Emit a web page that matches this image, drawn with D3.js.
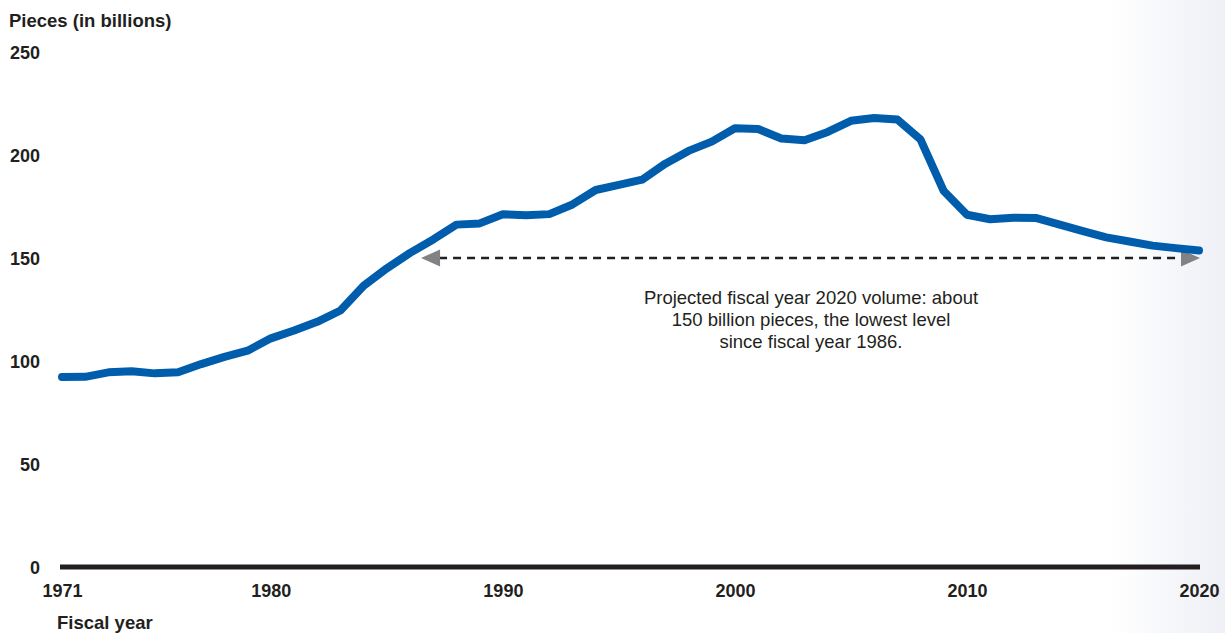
<!DOCTYPE html>
<html>
<head>
<meta charset="utf-8">
<script src="https://cdn.jsdelivr.net/npm/d3@7"></script>
<style>
  html, body { margin: 0; padding: 0; background: #fff; }
  svg { display: block; font-family: "Liberation Sans", Arial, Helvetica, sans-serif; }
</style>
</head>
<body>
<svg id="chart" width="1225" height="633"></svg>
<script>
const years = d3.range(1971, 2021);
const volume = [
  92.2, 92.3, 94.5, 95.0, 94.0, 94.5, 98.5, 102.0, 105.0, 111.0,
  114.8, 119.0, 124.5, 136.5, 145.0, 152.5, 159.0, 166.2, 166.8, 171.2,
  170.8, 171.3, 176.0, 183.0, 185.5, 188.0, 195.8, 202.0, 206.5, 213.0,
  212.6, 208.0, 207.2, 211.2, 216.6, 218.0, 217.2, 207.5, 182.5, 171.0,
  168.8, 169.5, 169.4, 166.2, 163.0, 160.0, 158.0, 156.0, 154.8, 153.6
];
const yTicks = [0, 50, 100, 150, 200, 250];
const xTicks = [1971, 1980, 1990, 2000, 2010, 2020];
const projectedLevel = 150;
const arrowFrom = 1986, arrowTo = 2020;
const yTitle = "Pieces (in billions)";
const xTitle = "Fiscal year";
const noteLines = [
  "Projected fiscal year 2020 volume: about",
  "150 billion pieces, the lowest level",
  "since fiscal year 1986."
];

const svg = d3.select("#chart");
const W = 1225, H = 633;

// right-edge soft gradient
const defs = svg.append("defs");
const grad = defs.append("linearGradient").attr("id", "edge").attr("x1", 0).attr("x2", 1);
grad.append("stop").attr("offset", "0").attr("stop-color", "#ffffff");
grad.append("stop").attr("offset", "1").attr("stop-color", "#eef0f6");
svg.append("rect").attr("x", 1110).attr("y", 0).attr("width", W - 1110).attr("height", H).attr("fill", "url(#edge)");

const x = d3.scaleLinear().domain([1971, 2020]).range([62, 1199]);
const y = d3.scaleLinear().domain([0, 250]).range([567, 52]);

const ink = "#231f20";
const boldSize = 18;

// Y title
svg.append("text").attr("x", 9).attr("y", 27).attr("font-size", 18.5).attr("font-weight", "bold").attr("fill", ink).text(yTitle);

// Y tick labels
const yAxis = d3.axisLeft(y).tickValues(yTicks).tickSize(0).tickPadding(0);
const gy = svg.append("g").attr("transform", "translate(40,0)").call(yAxis);
gy.select(".domain").remove();
gy.selectAll("text").attr("font-size", boldSize).attr("font-weight", "bold").attr("fill", ink)
  .attr("font-family", "Liberation Sans, Arial, sans-serif").attr("dy", "0.35em");

// X tick labels
const xAxis = d3.axisBottom(x).tickValues(xTicks).tickFormat(d3.format("d")).tickSize(0).tickPadding(0);
const gx = svg.append("g").attr("transform", "translate(0,584)").call(xAxis);
gx.select(".domain").remove();
gx.selectAll("text").attr("font-size", boldSize).attr("font-weight", "bold").attr("fill", ink)
  .attr("font-family", "Liberation Sans, Arial, sans-serif").attr("dy", "0.71em");

// X title
svg.append("text").attr("x", 57).attr("y", 629).attr("font-size", 18.5).attr("font-weight", "bold").attr("fill", ink).text(xTitle);

// baseline
svg.append("line").attr("x1", x(1971) - 2).attr("x2", x(2020) + 1).attr("y1", y(0)).attr("y2", y(0))
  .attr("stroke", ink).attr("stroke-width", 5);

// projection arrow
const arrowY = y(projectedLevel);
const headW = 19, headH = 17;
svg.append("line").attr("x1", x(arrowFrom) + 10 + headW).attr("x2", x(arrowTo) - headW - 2)
  .attr("y1", arrowY).attr("y2", arrowY)
  .attr("stroke", ink).attr("stroke-width", 2.6).attr("stroke-dasharray", "8,6");
const lx = x(arrowFrom) + 11;
svg.append("path").attr("d", `M${lx},${arrowY} L${lx + headW},${arrowY - headH / 2} L${lx + headW},${arrowY + headH / 2} Z`).attr("fill", "#808285");
const rx = x(arrowTo) + 1;
svg.append("path").attr("d", `M${rx},${arrowY} L${rx - headW},${arrowY - headH / 2} L${rx - headW},${arrowY + headH / 2} Z`).attr("fill", "#808285");

// annotation
const note = svg.append("text").attr("x", 811).attr("y", 304).attr("text-anchor", "middle")
  .attr("font-size", 18.5).attr("fill", ink);
noteLines.forEach((t, i) => note.append("tspan").attr("x", 811).attr("dy", i === 0 ? 0 : 22).text(t));

// data line
const line = d3.line().x((d, i) => x(years[i])).y(d => y(d));
svg.append("path").datum(volume).attr("d", line).attr("fill", "none")
  .attr("stroke", "#005dac").attr("stroke-width", 8).attr("stroke-linecap", "round").attr("stroke-linejoin", "round");
</script>
</body>
</html>
